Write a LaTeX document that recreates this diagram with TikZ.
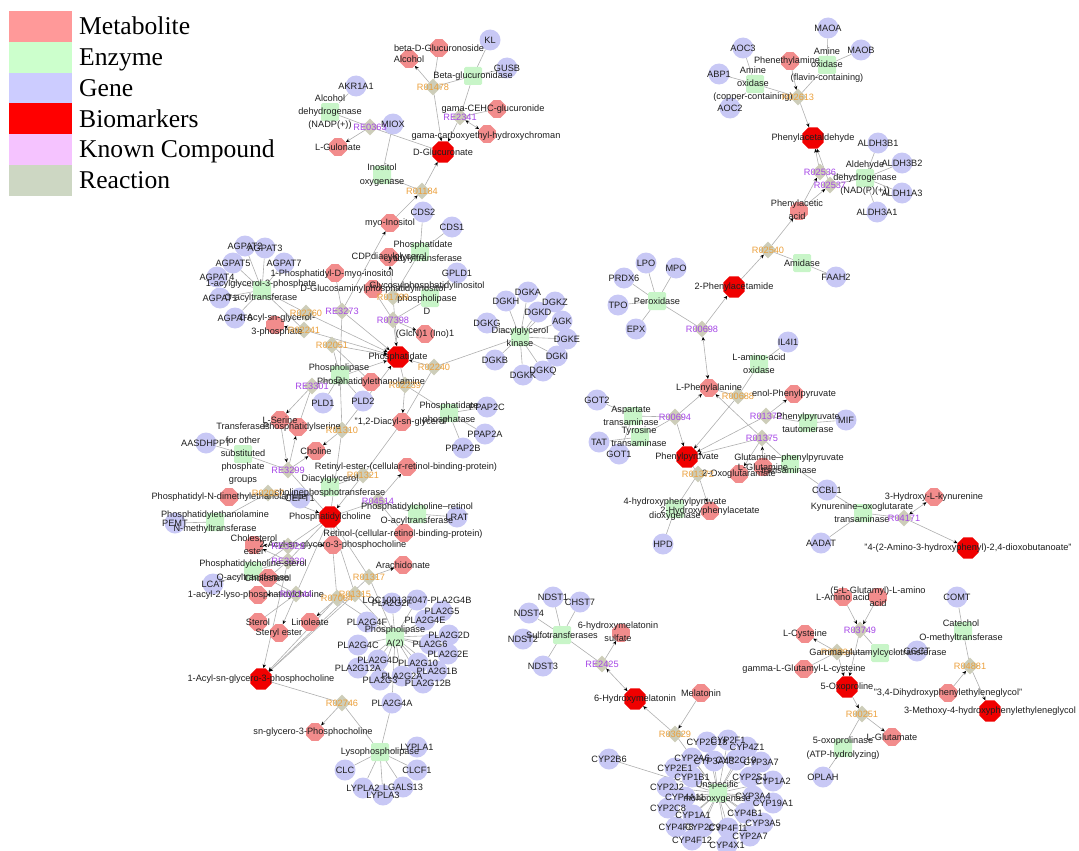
\documentclass[tikz,border=0pt]{standalone}
\usepackage{fontspec}
\usepackage{etoolbox}
\setmainfont{Liberation Sans}
\newfontfamily\legfont{Liberation Serif}
\usetikzlibrary{shapes.geometric,arrows.meta}
\pgfdeclarelayer{bg}\pgfsetlayers{bg,main}
\definecolor{cMet}{RGB}{242,140,140}
\definecolor{cBio}{RGB}{240,0,0}
\definecolor{cGene}{RGB}{200,200,245}
\definecolor{cEnz}{RGB}{200,245,200}
\definecolor{cRxn}{RGB}{205,205,185}
\definecolor{cOrg}{RGB}{235,160,60}
\definecolor{cPur}{RGB}{165,70,230}
\definecolor{cTxt}{RGB}{30,30,30}
\definecolor{cEdge}{RGB}{175,175,175}
\definecolor{lMet}{RGB}{255,153,153}
\definecolor{lEnz}{RGB}{204,255,204}
\definecolor{lGene}{RGB}{204,204,255}
\definecolor{lBio}{RGB}{255,0,0}
\definecolor{lKnown}{RGB}{245,195,255}
\definecolor{lRxn}{RGB}{205,215,195}
\tikzset{
 met/.style={regular polygon,regular polygon sides=8,fill=cMet,inner sep=0pt,minimum size=19pt},
 bio/.style={regular polygon,regular polygon sides=8,fill=cBio,inner sep=0pt,minimum size=23pt},
 gene/.style={circle,fill=cGene,inner sep=0pt,minimum size=21pt},
 enz/.style={rectangle,rounded corners=1.5pt,fill=cEnz,minimum size=18pt,inner sep=0pt},
 rxo/.style={diamond,fill=cRxn,minimum size=17pt,inner sep=0pt},
 rxp/.style={rxo},
 lbl/.style={font=\fontsize{9.2}{13.3}\selectfont,text=cTxt,align=center,inner sep=0pt},
 metlbl/.style={lbl},biolbl/.style={lbl},genelbl/.style={lbl},enzlbl/.style={lbl},
 rxolbl/.style={lbl,text=cOrg},rxplbl/.style={lbl,text=cPur},
 e/.style={draw=cEdge,line width=0.6pt},
 a/.style={e,-{Stealth[length=4pt,width=3.4pt,color=black]}},
 ab/.style={e,{Stealth[length=4pt,width=3.4pt,color=black]}-{Stealth[length=4pt,width=3.4pt,color=black]}},
 legtxt/.style={anchor=base west,inner sep=0pt,font=\legfont\fontsize{25.6}{26}\selectfont,text=black},
}
\def\labellist{}
\newcommand\Nd[4]{\node[#1] (#2) at (#3) {};\gappto\labellist{\node[#1lbl] at (#3) {#4};}}
\newcommand\Ndl[5]{\node[#1] (#2) at (#3) {};\gappto\labellist{\node[#1lbl] at (#4) {#5};}}
\newcommand\Eg[2]{\draw[e] (#1) -- (#2);}
\newcommand\Ea[2]{\draw[a] (#1) -- (#2);}
\newcommand\Eb[2]{\draw[ab] (#1) -- (#2);}
\begin{document}
\begin{tikzpicture}[x=1pt,y=-1pt]
\useasboundingbox (0,0) rectangle (1079,851);
% legend
\foreach \c/\t [count=\i from 0] in {lMet/Metabolite,lEnz/Enzyme,lGene/Gene,lBio/Biomarkers,lKnown/Known Compound,lRxn/Reaction}{
 \fill[\c] (9,11+30.8*\i) rectangle (72,41.8+30.8*\i);
 \node[legtxt] (leg\i) at (79,35+30.7*\i) {\t};}
% ---------- glucuronate cluster
\Nd{gene}{KL}{490,40}{KL}
\Nd{met}{bDG}{439,48}{beta-D-Glucuronoside}
\Nd{met}{Alc}{409,59}{Alcohol}
\Nd{gene}{GUSB}{507,68}{GUSB}
\Nd{enz}{BGlu}{473,76}{Beta-glucuronidase}
\Nd{rxo}{R01478}{433,87}{R01478}
\Nd{gene}{AKR1A1}{356,86}{AKR1A1}
\Nd{enz}{ADH}{330,112}{Alcohol\\dehydrogenase\\(NADP(+))}
\Nd{rxp}{RE0363}{370,127}{RE0363}
\Nd{gene}{MIOX}{393,124}{MIOX}
\Ndl{met}{CEHCg}{497,109}{493,109}{gama-CEHC-glucuronide}
\Nd{rxp}{RE2341}{460,117}{RE2341}
\Ndl{met}{CEHC}{487,134}{486,136}{gama-carboxyethyl-hydroxychroman}
\Nd{met}{LGul}{338,147}{L-Gulonate}
\Nd{bio}{DGlcA}{443,152}{D-Glucuronate}
\Nd{enz}{InoOx}{382,175}{Inositol\\oxygenase}
\Nd{rxo}{R01184}{422,191}{R01184}
\Nd{gene}{CDS2}{423,212}{CDS2}
\Nd{met}{myoIno}{390,223}{myo-Inositol}
\Nd{gene}{CDS1}{452,227}{CDS1}
\Ndl{enz}{PCyt}{420,252}{423,252}{Phosphatidate\\cytidylyltransferase}
\Nd{met}{CDPDAG}{389,257}{CDPdiacylglycerol}
\Nd{gene}{GPLD1}{457,273}{GPLD1}
\Ndl{met}{PI}{335,273}{332,274}{1-Phosphatidyl-D-myo-inositol}
\Nd{met}{DGPI}{373,289}{D-Glucosaminylphosphatidylinositol}
\Ndl{enz}{GPIPLD}{430,298}{427,298}{Glycosylphosphatidylinositol\\phospholipase\\D}
% ---------- lipid cluster
\Nd{gene}{AGPATb}{245,246}{AGPAT2}
\Nd{gene}{AGPATc}{265,248}{AGPAT3}
\Nd{gene}{AGPATe}{233,263}{AGPAT5}
\Nd{gene}{AGPATg}{284,263}{AGPAT7}
\Nd{gene}{AGPATd}{217,277}{AGPAT4}
\Nd{gene}{AGPATa}{220,298}{AGPAT1}
\Nd{gene}{AGPATf}{235,318}{AGPAT6}
\Ndl{enz}{AGPATz}{262,290}{261,291}{1-acylglycerol-3-phosphate\\O-acyltransferase}
\Ndl{met}{LPA}{275,325}{277,325}{1-Acyl-sn-glycerol-\\3-phosphate}
\Nd{rxo}{R02760}{306,313}{R02760}
\Nd{rxo}{R02241}{304,330}{R02241}
\Nd{rxp}{RE3273}{342,311}{RE3273}
\Nd{rxo}{R01799}{393,297}{R01799}
\Nd{rxp}{R07398}{393,320}{R07398}
\Nd{met}{GlcNIno}{425,334}{(GlcN)1 (Ino)1}
\Nd{bio}{PA}{398,357}{Phosphatidate}
\Nd{rxo}{R02051}{332,345}{R02051}
\Ndl{enz}{PLD}{340,375}{339,374}{Phospholipase\\D}
\Nd{met}{PE}{371,382}{Phosphatidylethanolamine}
\Nd{rxo}{R02239}{405,385}{R02239}
\Nd{rxo}{R02240}{434,367}{R02240}
\Nd{enz}{DGK}{520,337}{Diacylglycerol\\kinase}
\Nd{gene}{DGKA}{528,292}{DGKA}
\Nd{gene}{DGKH}{506,301}{DGKH}
\Nd{gene}{DGKZ}{555,302}{DGKZ}
\Nd{gene}{DGKD}{538,312}{DGKD}
\Nd{gene}{AGK}{562,321}{AGK}
\Nd{gene}{DGKG}{487,323}{DGKG}
\Nd{gene}{DGKE}{567,339}{DGKE}
\Nd{gene}{DGKI}{557,356}{DGKI}
\Nd{gene}{DGKB}{495,360}{DGKB}
\Nd{gene}{DGKK}{523,375}{DGKK}
\Nd{gene}{DGKQ}{543,371}{DGKQ}
\Nd{enz}{PAP}{449,413}{Phosphatidate\\phosphatase}
\Nd{gene}{PPAPc}{487,407}{PPAP2C}
\Nd{gene}{PPAPa}{485,434}{PPAP2A}
\Nd{gene}{PPAPb}{463,448}{PPAP2B}
\Nd{met}{DAG}{402,422}{"1,2-Diacyl-sn-glycerol"}
\Nd{gene}{PLDa}{323,403}{PLD1}
\Nd{gene}{PLDb}{363,401}{PLD2}
\Nd{rxp}{RE3301}{312,386}{RE3301}
\Nd{met}{LSer}{280,420}{L-Serine}
\Ndl{met}{PS}{298,427}{302,427}{Phosphatidylserine}
\Nd{rxo}{R01310}{342,430}{R01310}
\Nd{met}{Cho}{316,451}{Choline}
\Nd{enz}{TrF}{243,454}{Transferases\\for other\\substituted\\phosphate\\groups}
\Nd{gene}{AASDHPPT}{206,443}{AASDHPPT}
\Nd{rxp}{RE3299}{288,470}{RE3299}
\Ndl{met}{RetE}{407,467}{406,467}{Retinyl-ester-(cellular-retinol-binding-protein)}
\Nd{rxo}{R01321}{363,475}{R01321}
\Ndl{enz}{DAGCPT}{330,487}{330,486}{Diacylglycerol\\cholinephosphotransferase}
\Nd{met}{PDME}{229,497}{Phosphatidyl-N-dimethylethanolamine}
\Nd{rxo}{Rpem}{268,493}{R02057}
\Nd{gene}{CEPT}{300,498}{CEPT1}
\Nd{enz}{PEMTe}{215,522}{Phosphatidylethanolamine\\N-methyltransferase}
\Nd{gene}{PEMT}{175,523}{PEMT}
\Nd{bio}{PC}{330,517}{Phosphatidylcholine}
\Nd{rxp}{R04514}{378,501}{R04514}
\Nd{enz}{PCRAT}{417,514}{Phosphatidylcholine--retinol\\O-acyltransferase}
\Nd{gene}{LRAT}{457,517}{LRAT}
\Ndl{met}{Ret}{404,533}{403,534}{Retinol-(cellular-retinol-binding-protein)}
\Nd{met}{ChE}{254,545}{Cholesterol\\ester}
\Nd{met}{AGPC}{333,545}{2-Acyl-sn-glycero-3-phosphocholine}
\Nd{rxp}{RE3329}{288,546}{RE3329}
\Nd{rxp}{RE3330}{288,561}{RE3330}
\Nd{enz}{LCATe}{253,571}{Phosphatidylcholine-sterol\\O-acyltransferase}
\Nd{met}{Chol}{268,578}{Cholesterol}
\Nd{gene}{LCAT}{213,584}{LCAT}
\Ndl{met}{LPCb}{258,595}{256,595}{1-acyl-2-lyso-phosphatidylcholine}
\Nd{rxp}{R02144}{296,594}{R02144}
\Nd{met}{Sterol}{258,622}{Sterol}
\Nd{met}{StE}{279,633}{Steryl ester}
\Nd{met}{Lin}{310,622}{Linoleate}
\Nd{met}{Ara}{403,565}{Arachidonate}
\Nd{rxo}{R01317}{369,577}{R01317}
\Nd{rxo}{R01315}{355,594}{R01315}
\Nd{rxo}{R07064}{337,598}{R07064}
\Nd{enz}{PLA}{395,637}{Phospholipase\\A(2)}
\Nd{gene}{PLOC}{417,600}{LOC100137047-PLA2G4B}
\Nd{gene}{PgtF}{392,603}{PLA2G2F}
\Nd{gene}{PgfF}{367,622}{PLA2G4F}
\Nd{gene}{PgV}{442,611}{PLA2G5}
\Nd{gene}{PgfE}{425,620}{PLA2G4E}
\Nd{gene}{PgtD}{449,635}{PLA2G2D}
\Nd{gene}{PgVI}{430,644}{PLA2G6}
\Nd{gene}{PgfC}{358,645}{PLA2G4C}
\Nd{gene}{PgtE}{448,654}{PLA2G2E}
\Nd{gene}{PgfD}{378,660}{PLA2G4D}
\Nd{gene}{PgX}{418,663}{PLA2G10}
\Nd{gene}{PgXIIA}{358,668}{PLA2G12A}
\Nd{gene}{PgIB}{437,671}{PLA2G1B}
\Nd{gene}{PgtA}{402,676}{PLA2G2A}
\Nd{gene}{PgIII}{380,680}{PLA2G3}
\Ndl{gene}{PgXIIB}{423,683}{428,683}{PLA2G12B}
\Nd{gene}{PgfA}{392,703}{PLA2G4A}
\Nd{bio}{LPC}{261,679}{1-Acyl-sn-glycero-3-phosphocholine}
\Nd{rxo}{R02746}{342,703}{R02746}
\Ndl{met}{GPC}{315,732}{313,732}{sn-glycero-3-Phosphocholine}
\Nd{enz}{LysoPL}{380,752}{Lysophospholipase}
\Nd{gene}{LYPLAa}{417,747}{LYPLA1}
\Nd{gene}{CLC}{345,770}{CLC}
\Nd{gene}{CLCF}{417,770}{CLCF1}
\Nd{gene}{LYPLAb}{363,788}{LYPLA2}
\Nd{gene}{LGALS}{403,787}{LGALS13}
\Nd{gene}{LYPLAc}{383,795}{LYPLA3}
% ---------- phenylalanine cluster
\Nd{gene}{AOCc}{743,48}{AOC3}
\Ndl{met}{PEA}{790,61}{787,61}{Phenethylamine}
\Nd{gene}{MAOA}{828,28}{MAOA}
\Nd{gene}{MAOB}{861,50}{MAOB}
\Nd{enz}{AOF}{827,65}{Amine\\oxidase\\(flavin-containing)}
\Nd{gene}{ABP}{719,74}{ABP1}
\Ndl{enz}{AOC}{755,84}{753,84}{Amine\\oxidase\\(copper-containing)}
\Nd{gene}{AOCb}{730,108}{AOC2}
\Nd{rxo}{R02613}{798,97}{R02613}
\Nd{bio}{PAld}{813,138}{Phenylacetaldehyde}
\Nd{gene}{ALDHa}{878,143}{ALDH3B1}
\Nd{gene}{ALDHb}{902,163}{ALDH3B2}
\Nd{gene}{ALDHc}{902,193}{ALDH1A3}
\Nd{gene}{ALDHd}{877,212}{ALDH3A1}
\Nd{enz}{ALDH}{865,178}{Aldehyde\\dehydrogenase\\(NAD(P)(+))}
\Nd{rxp}{R02536}{820,172}{R02536}
\Nd{rxp}{R02537}{830,185}{R02537}
\Ndl{met}{PAA}{799,211}{797,210}{Phenylacetic\\acid}
\Nd{rxo}{R02540}{768,250}{R02540}
\Nd{enz}{Amid}{802,263}{Amidase}
\Nd{gene}{FAAH}{836,277}{FAAH2}
\Nd{bio}{PAM}{734,287}{2-Phenylacetamide}
\Nd{enz}{Perox}{657,301}{Peroxidase}
\Nd{gene}{LPO}{646,263}{LPO}
\Nd{gene}{MPO}{676,268}{MPO}
\Nd{gene}{PRDX}{624,278}{PRDX6}
\Nd{gene}{TPO}{618,305}{TPO}
\Nd{gene}{EPX}{636,329}{EPX}
\Nd{rxp}{R00698}{702,329}{R00698}
\Nd{gene}{ILF}{788,342}{IL4I1}
\Nd{enz}{LAAO}{759,364}{L-amino-acid\\oxidase}
\Nd{met}{Phe}{709,388}{L-Phenylalanine}
\Nd{rxo}{R00688}{738,396}{R00688}
\Nd{met}{ePP}{794,394}{enol-Phenylpyruvate}
\Nd{gene}{GOTb}{597,400}{GOT2}
\Ndl{enz}{AspT}{633,416}{631,416}{Aspartate\\transaminase}
\Nd{rxp}{R00694}{675,417}{R00694}
\Nd{rxp}{R01373}{766,416}{R01373}
\Nd{enz}{PPT}{808,423}{Phenylpyruvate\\tautomerase}
\Nd{gene}{MIF}{846,420}{MIF}
\Ndl{enz}{TyrT}{640,437}{639,437}{Tyrosine\\transaminase}
\Nd{gene}{TAT}{599,442}{TAT}
\Nd{gene}{GOTa}{619,454}{GOT1}
\Nd{rxp}{R01375}{762,438}{R01375}
\Nd{bio}{PPyr}{687,457}{Phenylpyruvate}
\Ndl{enz}{GPT}{790,464}{789,464}{Glutamine--phenylpyruvate\\transaminase}
\Nd{met}{Gln}{763,467}{L-Glutamine}
\Nd{met}{OGA}{739,474}{2-Oxoglutaramate}
\Nd{rxo}{R01372}{698,474}{R01372}
\Nd{enz}{HPDe}{675,509}{4-hydroxyphenylpyruvate\\dioxygenase}
\Nd{met}{HPA}{710,511}{2-Hydroxyphenylacetate}
\Nd{gene}{HPD}{663,544}{HPD}
\Nd{gene}{CCBL}{827,490}{CCBL1}
\Ndl{enz}{KAT}{863,513}{862,513}{Kynurenine--oxoglutarate\\transaminase}
\Nd{gene}{AADAT}{821,543}{AADAT}
\Nd{rxp}{R04171}{904,518}{R04171}
\Nd{met}{HK}{934,497}{3-Hydroxy-L-kynurenine}
\Nd{bio}{AHDB}{968,548}{"4-(2-Amino-3-hydroxyphenyl)-2,4-dioxobutanoate"}
% ---------- glutathione / catechol cluster
\Nd{met}{GAA}{878,597}{(5-L-Glutamyl)-L-amino\\acid}
\Nd{met}{LAA}{843,597}{L-Amino acid}
\Nd{rxp}{R03749}{860,630}{R03749}
\Nd{gene}{COMT}{957,597}{COMT}
\Ndl{enz}{COMTe}{963,631}{961,631}{Catechol\\O-methyltransferase}
\Nd{met}{Cys}{805,634}{L-Cysteine}
\Nd{gene}{GGCT}{917,651}{GGCT}
\Nd{rxo}{Rggc}{837,652}{R00894}
\Ndl{enz}{GGCTe}{880,653}{878,653}{Gamma-glutamylcyclotransferase}
\Nd{met}{GGC}{804,669}{gamma-L-Glutamyl-L-cysteine}
\Nd{bio}{OXP}{847,687}{5-Oxoproline}
\Nd{met}{DHPG}{948,693}{"3,4-Dihydroxyphenylethyleneglycol"}
\Nd{rxo}{R04881}{970,666}{R04881}
\Nd{bio}{MHPG}{990,711}{3-Methoxy-4-hydroxyphenylethyleneglycol}
\Nd{rxo}{R00251}{862,714}{R00251}
\Nd{met}{Glu}{892,737}{L-Glutamate}
\Nd{enz}{OPL}{843,748}{5-oxoprolinase\\(ATP-hydrolyzing)}
\Nd{gene}{OPLAH}{823,777}{OPLAH}
% ---------- melatonin cluster
\Nd{gene}{NDSTa}{553,597}{NDST1}
\Nd{gene}{CHST}{580,602}{CHST7}
\Nd{gene}{NDSTd}{529,613}{NDST4}
\Nd{enz}{SULT}{562,635}{Sulfotransferases}
\Nd{gene}{NDSTb}{523,639}{NDST2}
\Nd{gene}{NDSTc}{543,666}{NDST3}
\Ndl{met}{HMS}{621,633}{618,632}{6-hydroxymelatonin\\sulfate}
\Nd{rxp}{RE2425}{602,664}{RE2425}
\Nd{bio}{HM}{635,699}{6-Hydroxymelatonin}
\Nd{met}{Mel}{701,693}{Melatonin}
\Nd{rxo}{R03629}{675,734}{R03629}
\Nd{gene}{CYPBs}{609,759}{CYP2B6}
\Ndl{enz}{UMO}{718,793}{717,792}{Unspecific\\monooxygenase}
\Nd{gene}{Ca}{707,742}{CYP2C18}
\Nd{gene}{Cb}{728,740}{CYP2F1}
\Nd{gene}{Cc}{747,747}{CYP4Z1}
\Nd{gene}{Cd}{692,758}{CYP2A6}
\Nd{gene}{Ce}{714,761}{CYP3A43}
\Nd{gene}{Cf}{736,760}{CYP2C19}
\Nd{gene}{Cg}{761,762}{CYP3A7}
\Nd{gene}{Ch}{675,768}{CYP2E1}
\Nd{gene}{Ci}{692,777}{CYP1B1}
\Nd{gene}{Cj}{750,777}{CYP2S1}
\Nd{gene}{Ck}{773,781}{CYP1A2}
\Nd{gene}{Cl}{667,787}{CYP2J2}
\Nd{gene}{Cm}{685,797}{CYP4A11}
\Nd{gene}{Cn}{753,796}{CYP3A4}
\Nd{gene}{Co}{773,803}{CYP19A1}
\Nd{gene}{Cp}{668,808}{CYP2C8}
\Nd{gene}{Cq}{693,815}{CYP1A1}
\Nd{gene}{Cr}{745,813}{CYP4B1}
\Nd{gene}{Cs}{676,827}{CYP4F8}
\Nd{gene}{Ct}{703,827}{CYP2C9}
\Nd{gene}{Cu}{728,828}{CYP4F11}
\Nd{gene}{Cv}{763,823}{CYP3A5}
\Nd{gene}{Cw}{692,840}{CYP4F12}
\Nd{gene}{Cx}{727,845}{CYP4X1}
\Nd{gene}{Cy}{750,836}{CYP2A7}
% ================= edges
\begin{pgfonlayer}{bg}
\Eg{KL}{BGlu}\Eg{GUSB}{BGlu}\Eg{BGlu}{R01478}\Eg{BGlu}{RE2341}
\Eg{bDG}{R01478}\Ea{R01478}{Alc}\Ea{R01478}{DGlcA}
\Eg{CEHCg}{RE2341}\Eb{RE2341}{CEHC}\Ea{RE2341}{DGlcA}
\Eg{AKR1A1}{ADH}\Eg{ADH}{RE0363}\Ea{RE0363}{LGul}\Eg{DGlcA}{RE0363}
\Eg{MIOX}{InoOx}\Eg{InoOx}{R01184}\Ea{myoIno}{R01184}\Ea{R01184}{DGlcA}
\Eg{CDS2}{PCyt}\Eg{CDS1}{PCyt}\Eg{PCyt}{R01799}\Ea{R01799}{CDPDAG}\Eg{PA}{R01799}
\Eg{GPLD1}{GPIPLD}\Eg{GPIPLD}{R07398}\Eg{DGPI}{R07398}\Ea{R07398}{GlcNIno}\Ea{R07398}{PA}
\Eg{PI}{RE3273}\Ea{RE3273}{myoIno}\Ea{RE3273}{PA}\Eg{PLD}{RE3273}
\foreach \g in {AGPATa,AGPATb,AGPATc,AGPATd,AGPATe,AGPATf,AGPATg}{\Eg{\g}{AGPATz}}
\Eg{AGPATz}{R02241}\Eg{AGPATz}{R02760}
\Ea{R02241}{LPA}\Ea{R02241}{PA}\Eg{LPA}{R02760}\Ea{R02760}{PA}
\Eg{PLD}{R02051}\Eg{PE}{R02051}\Ea{R02051}{PA}
\Eg{PLD}{RE3301}\Eg{PS}{RE3301}\Ea{RE3301}{LSer}\Ea{RE3301}{PA}
\Eg{PLD}{R01310}\Eg{PC}{R01310}\Ea{R01310}{Cho}\Ea{R01310}{PA}
\Eg{PLDa}{PLD}\Eg{PLDb}{PLD}
\foreach \g in {DGKA,DGKH,DGKZ,DGKD,AGK,DGKG,DGKE,DGKI,DGKB,DGKK,DGKQ}{\Eg{\g}{DGK}}
\Eg{DGK}{R02240}\Eg{DAG}{R02240}\Ea{R02240}{PA}
\Eg{PAP}{R02239}\Eg{PA}{R02239}\Ea{R02239}{DAG}
\Eg{PPAPa}{PAP}\Eg{PPAPb}{PAP}\Eg{PPAPc}{PAP}
\Eg{AASDHPPT}{TrF}\Eg{TrF}{RE3299}\Ea{LSer}{RE3299}\Ea{RE3299}{PS}\Ea{RE3299}{Cho}\Eg{PC}{RE3299}
\Eg{DAGCPT}{R01321}\Eg{DAG}{R01321}\Ea{R01321}{PC}\Eg{CEPT}{DAGCPT}
\Eg{PCRAT}{R04514}\Eg{PC}{R04514}\Eg{Ret}{R04514}\Ea{R04514}{RetE}\Eg{LRAT}{PCRAT}
\Eg{PEMTe}{Rpem}\Eg{PDME}{Rpem}\Ea{Rpem}{PC}\Eg{PEMT}{PEMTe}
\Eg{LCATe}{RE3329}\Eg{LCATe}{RE3330}\Eg{LCATe}{R02144}\Eg{LCAT}{LCATe}
\Eg{PC}{RE3329}\Ea{RE3329}{ChE}\Ea{RE3329}{AGPC}
\Eg{PC}{RE3330}\Eg{Chol}{RE3330}\Ea{RE3330}{ChE}\Ea{RE3330}{LPC}
\Eg{PC}{R02144}\Eg{Sterol}{R02144}\Ea{R02144}{StE}\Ea{R02144}{LPCb}
\Eg{PLA}{R01317}\Eg{PC}{R01317}\Ea{R01317}{Ara}\Ea{R01317}{LPC}
\Eg{PLA}{R01315}\Eg{PC}{R01315}\Ea{R01315}{LPC}
\Eg{PLA}{R07064}\Eg{PC}{R07064}\Ea{R07064}{Lin}\Ea{R07064}{LPC}
\foreach \g in {PLOC,PgtF,PgfF,PgV,PgfE,PgtD,PgVI,PgfC,PgtE,PgfD,PgX,PgXIIA,PgIB,PgtA,PgIII,PgXIIB,PgfA}{\Eg{\g}{PLA}}
\Eg{LysoPL}{R02746}\Eg{LPC}{R02746}\Ea{R02746}{GPC}
\foreach \g in {LYPLAa,CLC,CLCF,LYPLAb,LGALS,LYPLAc,PgfA}{\Eg{\g}{LysoPL}}
% phenylalanine
\Eg{AOCc}{AOC}\Eg{ABP}{AOC}\Eg{AOCb}{AOC}\Eg{AOC}{R02613}
\Eg{MAOA}{AOF}\Eg{MAOB}{AOF}\Eg{AOF}{R02613}
\Ea{PEA}{R02613}\Ea{R02613}{PAld}
\foreach \g in {ALDHa,ALDHb,ALDHc,ALDHd}{\Eg{\g}{ALDH}}
\Eg{ALDH}{R02536}\Eg{ALDH}{R02537}
\Ea{R02536}{PAld}\Ea{R02537}{PAld}\Ea{PAA}{R02536}\Ea{PAA}{R02537}
\Eg{Amid}{R02540}\Eg{FAAH}{Amid}\Ea{PAM}{R02540}\Ea{R02540}{PAA}
\foreach \g in {LPO,MPO,PRDX,TPO,EPX}{\Eg{\g}{Perox}}
\Eg{Perox}{R00698}\Eb{Phe}{R00698}\Ea{R00698}{PAM}
\Eg{ILF}{LAAO}\Eg{LAAO}{R00688}\Eg{Phe}{R00688}\Ea{R00688}{PPyr}
\Eg{GOTb}{AspT}\Eg{GOTa}{AspT}\Eg{TAT}{TyrT}\Eg{AspT}{R00694}\Eg{TyrT}{R00694}
\Ea{R00694}{Phe}\Ea{R00694}{PPyr}
\Eg{MIF}{PPT}\Eg{PPT}{R01373}\Ea{R01373}{ePP}\Ea{R01373}{PPyr}
\Eg{GPT}{R01375}\Ea{R01375}{Phe}\Ea{R01375}{PPyr}\Ea{Gln}{R01375}\Ea{R01375}{OGA}
\Eg{CCBL}{GPT}\Eg{CCBL}{KAT}
\Eg{PPyr}{R01372}\Ea{R01372}{HPA}\Eg{HPDe}{R01372}\Eg{HPD}{HPDe}
\Eg{AADAT}{KAT}\Eg{KAT}{R04171}\Eb{R04171}{HK}\Ea{R04171}{AHDB}
% glutathione / catechol
\Ea{LAA}{R03749}\Ea{GAA}{R03749}\Ea{R03749}{OXP}\Eg{GGCTe}{R03749}\Eg{GGCT}{GGCTe}
\Eg{GGCTe}{Rggc}\Eg{GGC}{Rggc}\Ea{Rggc}{Cys}\Ea{Rggc}{OXP}
\Ea{OXP}{R00251}\Ea{R00251}{Glu}\Eg{OPL}{R00251}\Eg{OPLAH}{OPL}
\Eg{COMT}{COMTe}\Eg{COMTe}{R04881}\Ea{DHPG}{R04881}\Ea{R04881}{MHPG}
% melatonin
\foreach \g in {NDSTa,CHST,NDSTd,NDSTb,NDSTc}{\Eg{\g}{SULT}}
\Eg{SULT}{RE2425}\Eb{HM}{RE2425}\Ea{RE2425}{HMS}
\Ea{Mel}{R03629}\Ea{R03629}{HM}\Eg{UMO}{R03629}
\foreach \g in {CYPBs,Ca,Cb,Cc,Cd,Ce,Cf,Cg,Ch,Ci,Cj,Ck,Cl,Cm,Cn,Co,Cp,Cq,Cr,Cs,Ct,Cu,Cv,Cw,Cx,Cy}{\Eg{\g}{UMO}}
\end{pgfonlayer}
% ================= labels on top
\labellist
\end{tikzpicture}
\end{document}
